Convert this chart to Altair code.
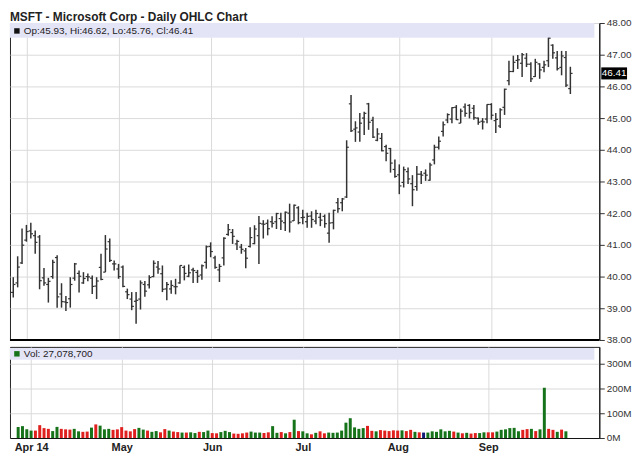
import altair as alt
import pandas as pd

# ---- data (trading-day index 0 = Mar 27 2014 ... 127 = Sep 26 2014) ----
opens = [39.50, 39.80, 40.43, 41.15, 41.44, 41.29, 41.25, 39.96, 39.75, 40.00,
         40.60, 39.45, 39.20, 39.30, 39.95, 40.10, 39.80, 40.00, 39.95, 39.70,
         40.29, 40.14, 41.10, 40.40, 40.24, 40.30, 39.52, 39.29, 39.22, 39.29,
         39.75, 39.74, 40.00, 40.30, 40.09, 39.61, 39.61, 39.68, 39.80, 40.29,
         40.01, 40.21, 40.13, 40.05, 40.45, 40.95, 40.59, 40.21, 40.59, 41.33,
         41.39, 41.03, 40.93, 40.81, 40.95, 41.04, 41.29, 41.66, 41.68, 41.73,
         41.73, 41.83, 41.70, 42.00, 41.76, 42.17, 41.86, 41.73, 41.91, 41.75,
         41.87, 41.90, 41.37, 41.70, 42.33, 42.33, 42.51, 45.45, 44.65, 44.56,
         45.00, 45.45, 44.93, 44.30, 44.36, 44.10, 44.04, 43.38, 43.21, 42.97,
         43.31, 42.93, 42.84, 43.23, 43.26, 43.04, 43.68, 44.08, 44.58, 44.94,
         44.97, 45.34, 44.84, 45.35, 45.40, 45.31, 45.00, 44.90, 44.97, 45.43,
         44.92, 44.75, 45.34, 46.18, 46.47, 46.82, 46.73, 46.89, 46.70, 46.31,
         46.71, 46.60, 46.81, 47.30, 46.90, 46.60, 46.91, 45.93]
highs = [39.98, 40.64, 41.52, 41.63, 41.70, 41.45, 41.31, 40.27, 39.96, 40.53,
         40.67, 39.79, 39.39, 39.98, 40.43, 40.19, 40.14, 40.10, 40.03, 39.98,
         40.72, 41.31, 41.20, 40.51, 40.40, 40.35, 39.62, 39.51, 39.51, 39.88,
         39.86, 40.04, 40.51, 40.49, 40.35, 39.83, 39.88, 39.93, 40.35, 40.35,
         40.38, 40.28, 40.21, 40.38, 40.98, 41.08, 40.66, 40.40, 41.24, 41.66,
         41.50, 41.16, 41.03, 40.90, 41.56, 41.62, 41.91, 41.78, 41.80, 41.90,
         42.01, 42.01, 42.05, 42.30, 42.27, 42.22, 42.11, 42.01, 42.06, 42.11,
         42.01, 41.96, 42.01, 42.11, 42.48, 42.48, 44.30, 45.73, 44.90, 45.16,
         45.20, 45.48, 45.04, 44.68, 44.53, 44.16, 44.06, 43.69, 43.54, 43.47,
         43.44, 43.20, 43.49, 43.33, 43.38, 43.59, 44.16, 44.42, 44.89, 45.15,
         45.34, 45.41, 45.30, 45.46, 45.44, 45.41, 45.02, 45.00, 45.44, 45.47,
         45.16, 45.31, 45.93, 46.81, 46.97, 46.99, 47.05, 47.05, 46.76, 46.87,
         46.73, 46.81, 47.59, 47.33, 47.12, 47.12, 47.12, 46.62]
lows = [39.34, 39.66, 40.40, 41.10, 41.20, 40.72, 39.60, 39.71, 39.18, 39.93,
        39.02, 39.02, 38.91, 39.02, 39.87, 39.50, 39.77, 39.85, 39.45, 39.29,
        39.88, 40.14, 40.46, 40.19, 39.93, 39.66, 39.29, 38.94, 38.51, 38.96,
        39.36, 39.62, 39.98, 40.09, 39.51, 39.25, 39.46, 39.44, 39.77, 39.88,
        39.98, 39.80, 39.80, 39.90, 40.25, 40.61, 40.25, 39.83, 40.35, 41.29,
        41.03, 40.84, 40.72, 40.26, 40.92, 41.02, 40.40, 41.20, 41.30, 41.55,
        41.50, 41.47, 41.44, 41.39, 41.75, 41.65, 41.65, 41.54, 41.54, 41.65,
        41.59, 41.54, 41.07, 41.49, 42.01, 42.06, 42.48, 44.56, 44.25, 44.25,
        44.47, 44.63, 44.37, 44.27, 43.95, 43.64, 43.28, 43.12, 42.60, 42.81,
        42.92, 42.22, 42.71, 42.92, 43.02, 43.02, 43.54, 44.01, 44.42, 44.84,
        44.84, 44.94, 44.84, 45.04, 44.99, 44.95, 44.79, 44.64, 44.84, 44.95,
        44.53, 44.69, 45.10, 46.04, 46.45, 46.55, 46.30, 46.61, 46.14, 46.30,
        46.24, 46.45, 46.61, 46.87, 46.50, 46.35, 45.98, 45.76]
closes = [39.75, 40.30, 40.99, 41.42, 41.35, 41.08, 39.87, 39.80, 39.85, 40.45,
          39.36, 39.21, 39.18, 39.75, 40.40, 40.01, 39.94, 39.99, 39.69, 39.86,
          39.91, 40.87, 40.51, 40.40, 40.00, 39.69, 39.43, 39.06, 39.25, 39.80,
          39.54, 39.97, 40.42, 40.24, 39.60, 39.75, 39.72, 39.68, 40.35, 40.10,
          40.12, 40.19, 40.01, 40.34, 40.94, 40.79, 40.29, 40.32, 41.21, 41.48,
          41.27, 41.11, 40.86, 40.58, 41.23, 41.50, 41.68, 41.65, 41.51, 41.68,
          41.99, 41.75, 42.03, 41.72, 42.25, 41.70, 41.87, 41.90, 41.80, 41.99,
          41.78, 41.67, 41.69, 42.09, 42.14, 42.45, 44.08, 44.60, 44.69, 44.84,
          45.15, 44.87, 44.40, 44.50, 43.97, 43.89, 43.58, 43.16, 42.86, 43.37,
          43.08, 42.74, 43.23, 43.20, 43.20, 43.52, 44.08, 44.27, 44.79, 45.11,
          45.33, 44.95, 45.22, 45.15, 45.17, 45.01, 44.87, 44.88, 45.43, 45.09,
          44.96, 45.26, 45.91, 46.47, 46.76, 46.84, 47.00, 46.70, 46.24, 46.76,
          46.52, 46.68, 47.52, 47.06, 46.56, 46.96, 46.04, 46.41]
volumes_m = [44, 48, 35, 30, 30, 52, 40, 37, 28, 45,
             37, 35, 34, 37, 27, 25, 26, 42, 55, 50,
             35, 37, 33, 35, 44, 30, 27, 36, 41, 34,
             30, 25, 28, 23, 36, 30, 26, 24, 22, 22,
             23, 20, 25, 24, 30, 20, 19, 24, 29, 24,
             18, 17, 19, 22, 26, 22, 22, 20, 23, 48,
             21, 24, 19, 24, 74, 28, 27, 19, 15, 21,
             27, 19, 22, 21, 22, 30, 62, 80, 43, 37,
             40, 49, 29, 27, 32, 30, 28, 31, 30, 31,
             28, 33, 25, 23, 22, 22, 27, 25, 35, 27,
             29, 26, 22, 19, 21, 18, 20, 20, 23, 23,
             23, 26, 33, 35, 40, 41, 27, 33, 36, 37,
             28, 35, 203, 37, 33, 25, 34, 27.08]

month_idx = [3, 24, 45, 66, 88, 109]
month_lbl = ["Apr 14", "May", "Jun", "Jul", "Aug", "Sep"]
price_ticks = [38, 39, 40, 41, 42, 43, 44, 45, 46, 47, 48]
vol_ticks = [0, 100e6, 200e6, 300e6]
last_close = 46.41
title_txt = "MSFT - Microsoft Corp - Daily OHLC Chart"
ohlc_txt = "Op:45.93, Hi:46.62, Lo:45.76, Cl:46.41"
vol_txt = "Vol: 27,078,700"

n = len(closes)
dirs = []
for k in range(n):
    if k == 0:
        dirs.append("up")
    elif closes[k] > closes[k - 1]:
        dirs.append("up")
    elif closes[k] < closes[k - 1]:
        dirs.append("down")
    else:
        dirs.append("flat")

df = pd.DataFrame({
    "i": list(range(n)),
    "o": opens, "h": highs, "l": lows, "c": closes,
    "v": [v * 1e6 for v in volumes_m],
    "dir": dirs,
})
df["il"] = df["i"] - 0.5
df["ir"] = df["i"] + 0.5

W = 595
HP = 320
HV = 92
FONT = "Liberation Sans"
GRID = "#dadada"
BAR = "#333333"
BAND = "#e4e4f7"

xscale = alt.Scale(domain=[-0.75, 133.6], nice=False, zero=False)
yscale = alt.Scale(domain=[38, 48], nice=False, zero=False)
label_expr = " : ".join(
    f"datum.value == {m} ? '{t}'" for m, t in zip(month_idx, month_lbl)
) + " : ''"

x_axis_p = alt.Axis(values=month_idx, labels=False, ticks=False,
                    domain=False, grid=True, gridColor=GRID)
y_axis_p = alt.Axis(orient="right", values=price_ticks, format=".2f",
                    grid=True, gridColor=GRID, tickSize=5, labelOverlap=False,
                    tickColor="#333", domainColor="#111",
                    labelFontSize=10, labelColor="#333",
                    labelFont=FONT, labelPadding=2)


def XP(field):
    return alt.X(field, scale=xscale, title=None, axis=x_axis_p)


def YP(field):
    return alt.Y(field, scale=yscale, title=None, axis=y_axis_p)


base = alt.Chart(df)
one = pd.DataFrame({"a": [0]})

band = alt.Chart(one).mark_rect(color=BAND).encode(
    x=alt.value(0), x2=alt.value(590), y=alt.value(0), y2=alt.value(15))
hl = base.mark_rule(color=BAR, strokeWidth=1.5).encode(x=XP("i:Q"), y=YP("l:Q"), y2="h:Q")
op = base.mark_rule(color=BAR, strokeWidth=1.2).encode(x=XP("il:Q"), x2="i:Q", y=YP("o:Q"))
cl = base.mark_rule(color=BAR, strokeWidth=1.2).encode(x=XP("i:Q"), x2="ir:Q", y=YP("c:Q"))
sq = alt.Chart(one).mark_square(color="#111", size=30, opacity=1).encode(
    x=alt.value(7), y=alt.value(8))
hdr = alt.Chart(pd.DataFrame({"t": [ohlc_txt]})).mark_text(
    align="left", baseline="middle", font=FONT, fontSize=10, color="#222").encode(
    x=alt.value(14), y=alt.value(8), text="t:N")
ttl = alt.Chart(pd.DataFrame({"t": [title_txt]})).mark_text(
    align="left", baseline="alphabetic", font=FONT, fontSize=12, fontWeight="bold",
    color="#222").encode(x=alt.value(0), y=alt.value(-2), text="t:N")
sep = alt.Chart(one).mark_rule(color="#000", strokeWidth=2).encode(
    x=alt.value(0), x2=alt.value(W), y=alt.value(HP))
lastbox = alt.Chart(pd.DataFrame({"p": [last_close]})).transform_calculate(
    top="datum.p + 0.19", bot="datum.p - 0.19").mark_rect(color="#000").encode(
    x=alt.value(597), x2=alt.value(623), y=YP("top:Q"), y2="bot:Q")
lasttxt = alt.Chart(pd.DataFrame({"p": [last_close]})).mark_text(
    align="center", baseline="middle", font=FONT, fontSize=10, color="#fff").encode(
    x=alt.value(610), y=YP("p:Q"), text=alt.Text("p:Q", format=".2f"))

price = alt.layer(hl, band, op, cl, sq, hdr, ttl, sep, lastbox, lasttxt).properties(
    width=W, height=HP)

x_vol = alt.X("i:Q", scale=xscale, title=None,
              axis=alt.Axis(values=month_idx, labelExpr=label_expr, ticks=False,
                            domain=True, domainColor="#111", grid=True, gridColor=GRID,
                            labelFontSize=11, labelFontWeight="bold", labelColor="#222",
                            labelFont=FONT, labelPadding=4))
y_vol = alt.Y("v:Q", scale=alt.Scale(domain=[0, 368e6], nice=False), title=None,
              axis=alt.Axis(orient="right", values=vol_ticks,
                            labelExpr="(datum.value / 1000000) + 'M'",
                            grid=True, gridColor=GRID, tickSize=5, tickColor="#333",
                            domainColor="#111", labelFontSize=10, labelColor="#333",
                            labelFont=FONT, labelPadding=2, labelOverlap=False))
vband = alt.Chart(one).mark_rect(color=BAND).encode(
    x=alt.value(0), x2=alt.value(590), y=alt.value(1), y2=alt.value(13))
vbars = base.mark_bar(size=3).encode(
    x=x_vol, y=y_vol,
    color=alt.Color("dir:N", scale=alt.Scale(domain=["up", "down", "flat"],
                                             range=["#16731a", "#e0201f", "#121a78"]),
                    legend=None))
vsq = alt.Chart(one).mark_square(color="#16731a", size=30, opacity=1).encode(
    x=alt.value(7), y=alt.value(7))
vhdr = alt.Chart(pd.DataFrame({"t": [vol_txt]})).mark_text(
    align="left", baseline="middle", font=FONT, fontSize=10, color="#222").encode(
    x=alt.value(14), y=alt.value(7), text="t:N")
volume = alt.layer(vbars, vband, vsq, vhdr).properties(width=W, height=HV)

chart = alt.vconcat(price, volume, spacing=0).properties(
    padding={"left": 0, "top": 0, "right": 0, "bottom": 0},
).configure_view(stroke="#222", strokeWidth=1).configure_axis(labelFont=FONT)

chart.save("out.html", embed_options={"renderer": "svg", "actions": False})
